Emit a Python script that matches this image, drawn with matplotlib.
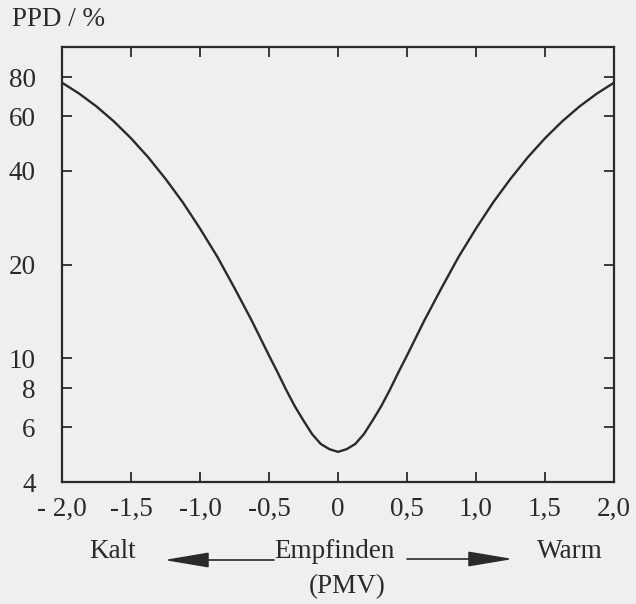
import matplotlib
matplotlib.use("Agg")
import matplotlib.pyplot as plt
from matplotlib.ticker import FixedLocator, NullLocator
from matplotlib.patches import FancyArrowPatch

# data
pmv = [-2.0, -1.875, -1.75, -1.625, -1.5, -1.375, -1.25, -1.125, -1.0, -0.875, -0.75,
       -0.625, -0.5, -0.4375, -0.375, -0.3125, -0.25, -0.1875, -0.125, -0.0625, 0.0,
       0.0625, 0.125, 0.1875, 0.25, 0.3125, 0.375, 0.4375, 0.5, 0.625, 0.75,
       0.875, 1.0, 1.125, 1.25, 1.375, 1.5, 1.625, 1.75, 1.875, 2.0]
ppd = [76.8, 70.8, 64.4, 57.7, 50.9, 44.2, 37.7, 31.7, 26.1, 21.2, 16.8,
       13.2, 10.2, 9.0, 7.9, 7.0, 6.3, 5.7, 5.3, 5.1, 5.0,
       5.1, 5.3, 5.7, 6.3, 7.0, 7.9, 9.0, 10.2, 13.2, 16.8,
       21.2, 26.1, 31.7, 37.7, 44.2, 50.9, 57.7, 64.4, 70.8, 76.8]
x_ticks = [-2.0, -1.5, -1.0, -0.5, 0.0, 0.5, 1.0, 1.5, 2.0]
x_labels = ["- 2,0", "-1,5", "-1,0", "-0,5", "0", "0,5", "1,0", "1,5", "2,0"]
y_ticks = [4, 6, 8, 10, 20, 40, 60, 80]
y_labels = ["4", "6", "8", "10", "20", "40", "60", "80"]

W, H = 636, 604
ink = "#2a2a2a"
bg = "#efefef"
plt.rcParams['font.family'] = ['Liberation Serif', 'DejaVu Serif']
FS = 19.5

fig = plt.figure(figsize=(W / 100, H / 100), dpi=100, facecolor=bg)
ax = fig.add_axes([62 / W, 1 - 482 / H, (614 - 62) / W, (482 - 47) / H])
ax.set_facecolor(bg)
ax.plot(pmv, ppd, color=ink, lw=1.7, solid_joinstyle='round')
ax.set_yscale('log')
ax.set_xlim(-2.0, 2.0)
ax.set_ylim(4, 100)
ax.yaxis.set_major_locator(FixedLocator(y_ticks))
ax.yaxis.set_minor_locator(NullLocator())
ax.set_yticklabels(y_labels)
ax.set_xticks(x_ticks)
ax.set_xticklabels(x_labels)
for s in ax.spines.values():
    s.set_linewidth(1.6)
    s.set_color(ink)
ax.tick_params(direction='in', length=7, width=1.3, colors=ink, labelsize=FS,
               top=True, right=True, labelcolor=ink)
ax.tick_params(axis='x', pad=11)
ax.tick_params(axis='y', pad=19)

def px(x, y):
    return x / W, 1 - y / H

fig.text(*px(12, 20), "PPD / %", fontsize=FS, color=ink, ha='left', va='center')
fig.text(*px(113, 552), "Kalt", fontsize=FS, color=ink, ha='center', va='center')
fig.text(*px(334, 552), "Empfinden", fontsize=FS, color=ink, ha='center', va='center')
fig.text(*px(570, 551), "Warm", fontsize=FS, color=ink, ha='center', va='center')
fig.text(*px(347, 587), "(PMV)", fontsize=FS, color=ink, ha='center', va='center')

arrow_style = dict(arrowstyle='-|>,head_length=2.8,head_width=0.47', color=ink, lw=1.2,
                   shrinkA=0, shrinkB=0)
fig.patches.append(FancyArrowPatch(px(274, 560), px(164, 560),
                   transform=fig.transFigure, mutation_scale=10, **arrow_style))
fig.patches.append(FancyArrowPatch(px(407, 559), px(513, 559),
                   transform=fig.transFigure, mutation_scale=10, **arrow_style))

fig.savefig("out.png", dpi=100, facecolor=bg)
